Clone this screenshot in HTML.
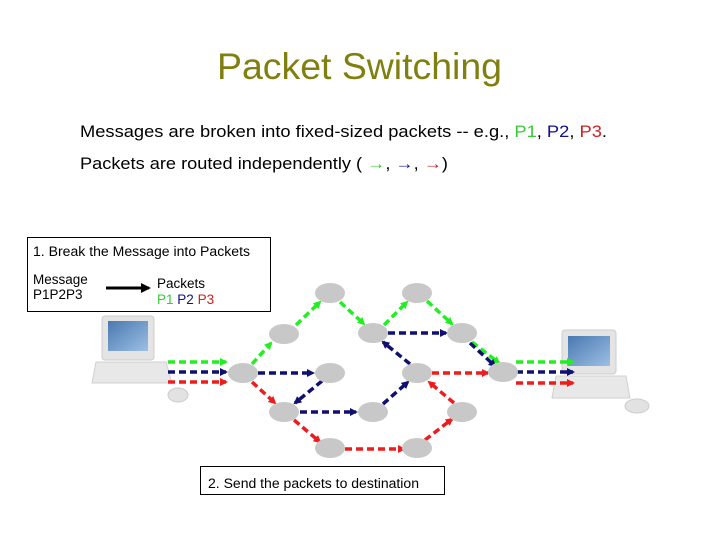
<!DOCTYPE html>
<html><head><meta charset="utf-8"><style>
html,body{margin:0;padding:0;background:#fff;}
svg{display:block;font-family:"Liberation Sans",sans-serif;}
</style></head><body>
<svg width="720" height="540" viewBox="0 0 720 540" xmlns="http://www.w3.org/2000/svg">
<defs>
<marker id="ag" markerWidth="8" markerHeight="8" refX="6" refY="4" orient="auto" markerUnits="userSpaceOnUse"><path d="M0,0 L8,4 L0,8 z" fill="#22ee22"/></marker>
<marker id="ab" markerWidth="8" markerHeight="8" refX="6" refY="4" orient="auto" markerUnits="userSpaceOnUse"><path d="M0,0 L8,4 L0,8 z" fill="#101070"/></marker>
<marker id="ar" markerWidth="8" markerHeight="8" refX="6" refY="4" orient="auto" markerUnits="userSpaceOnUse"><path d="M0,0 L8,4 L0,8 z" fill="#ee1c1c"/></marker>
<marker id="ak" markerWidth="10" markerHeight="10" refX="8" refY="5" orient="auto" markerUnits="userSpaceOnUse"><path d="M0,0 L10,5 L0,10 z" fill="#000"/></marker>
<linearGradient id="scr" x1="0" y1="0" x2="1" y2="1"><stop offset="0" stop-color="#4a78b0"/><stop offset="1" stop-color="#9cc0e4"/></linearGradient>
</defs>
<text x="217" y="79" font-size="37" fill="#808010" textLength="285" lengthAdjust="spacingAndGlyphs">Packet Switching</text>
<text x="80" y="137" font-size="17" fill="#000" textLength="527" lengthAdjust="spacingAndGlyphs">Messages are broken into fixed-sized packets -- e.g., <tspan fill="#33cc33">P1</tspan>, <tspan fill="#101090">P2</tspan>, <tspan fill="#cc2222">P3</tspan>.</text>
<text x="80" y="169" font-size="17" fill="#000" textLength="368" lengthAdjust="spacingAndGlyphs">Packets are routed independently  ( <tspan fill="#33cc33">→</tspan>, <tspan fill="#101090">→</tspan>, <tspan fill="#cc2222">→</tspan>)</text>

<!-- laptops -->
<g>
<rect x="102" y="316" width="52" height="44" rx="3" fill="#e4e4e4" stroke="#ccc"/>
<rect x="108" y="321" width="40" height="30" fill="url(#scr)"/>
<path d="M96,362 L166,362 L172,383 L92,383 z" fill="#e8e8e8" stroke="#d0d0d0"/>
<ellipse cx="178" cy="395" rx="10" ry="7" fill="#e2e2e2" stroke="#ccc"/>
</g>
<g>
<rect x="562" y="330" width="54" height="44" rx="3" fill="#e4e4e4" stroke="#ccc"/>
<rect x="568" y="336" width="42" height="30" fill="url(#scr)"/>
<path d="M556,376 L626,376 L630,398 L552,398 z" fill="#e8e8e8" stroke="#d0d0d0"/>
<ellipse cx="637" cy="406" rx="12" ry="7" fill="#e2e2e2" stroke="#ccc"/>
</g>

<g stroke-width="3.5" stroke-dasharray="7,4" fill="none">
<g stroke="#22ee22" marker-end="url(#ag)">
<line x1="168" y1="362" x2="226" y2="362"/>
<line x1="252" y1="364" x2="271" y2="343"/>
<line x1="296" y1="325" x2="320" y2="302"/>
<line x1="340" y1="302" x2="364" y2="324"/>
<line x1="384" y1="325" x2="407" y2="302"/>
<line x1="427" y1="301" x2="452" y2="324"/>
<line x1="472" y1="342" x2="499" y2="363"/>
<line x1="516" y1="362" x2="573" y2="362"/>
</g>
<g stroke="#101070" marker-end="url(#ab)">
<line x1="168" y1="372" x2="226" y2="372"/>
<line x1="258" y1="373" x2="313" y2="373"/>
<line x1="322" y1="381" x2="295" y2="403"/>
<line x1="300" y1="412" x2="356" y2="412"/>
<line x1="383" y1="404" x2="408" y2="382"/>
<line x1="410" y1="364" x2="383" y2="342"/>
<line x1="388" y1="333" x2="446" y2="333"/>
<line x1="470" y1="343" x2="495" y2="366"/>
<line x1="516" y1="372" x2="573" y2="372"/>
</g>
<g stroke="#ee1c1c" marker-end="url(#ar)">
<line x1="168" y1="382" x2="226" y2="382"/>
<line x1="252" y1="382" x2="275" y2="403"/>
<line x1="294" y1="420" x2="320" y2="442"/>
<line x1="345" y1="449" x2="404" y2="449"/>
<line x1="425" y1="440" x2="452" y2="419"/>
<line x1="454" y1="403" x2="429" y2="382"/>
<line x1="432" y1="373" x2="488" y2="373"/>
<line x1="516" y1="383" x2="573" y2="383"/>
</g>
</g>

<g fill="#c8c8c8">
<ellipse cx="243" cy="373" rx="15" ry="10"/>
<ellipse cx="284" cy="334" rx="15" ry="10"/>
<ellipse cx="330" cy="293" rx="15" ry="10"/>
<ellipse cx="330" cy="373" rx="15" ry="10"/>
<ellipse cx="284" cy="412" rx="15" ry="10"/>
<ellipse cx="330" cy="448" rx="15" ry="10"/>
<ellipse cx="373" cy="333" rx="15" ry="10"/>
<ellipse cx="417" cy="293" rx="15" ry="10"/>
<ellipse cx="417" cy="373" rx="15" ry="10"/>
<ellipse cx="373" cy="412" rx="15" ry="10"/>
<ellipse cx="417" cy="448" rx="15" ry="10"/>
<ellipse cx="462" cy="333" rx="15" ry="10"/>
<ellipse cx="462" cy="412" rx="15" ry="10"/>
<ellipse cx="503" cy="372" rx="15" ry="10"/>
</g>

<rect x="27.5" y="237.5" width="243" height="74" fill="#fff" stroke="#000"/>
<text x="33" y="256" font-size="13.5" fill="#000" textLength="217" lengthAdjust="spacingAndGlyphs">1. Break the Message into Packets</text>
<text x="33" y="284" font-size="13.5" fill="#000">Message</text>
<text x="33" y="299" font-size="13.5" fill="#000">P1P2P3</text>
<line x1="106" y1="288" x2="149" y2="288" stroke="#000" stroke-width="3" marker-end="url(#ak)"/>
<text x="157" y="288" font-size="13.5" fill="#000">Packets</text>
<text x="157" y="304" font-size="13.5"><tspan fill="#33cc33">P1</tspan> <tspan fill="#101090">P2</tspan> <tspan fill="#cc2222">P3</tspan></text>

<rect x="200.5" y="466.5" width="244" height="28" fill="#fff" stroke="#000"/>
<text x="208" y="488" font-size="13.5" fill="#000" textLength="211" lengthAdjust="spacingAndGlyphs">2. Send the packets to destination</text>
</svg>
</body></html>
